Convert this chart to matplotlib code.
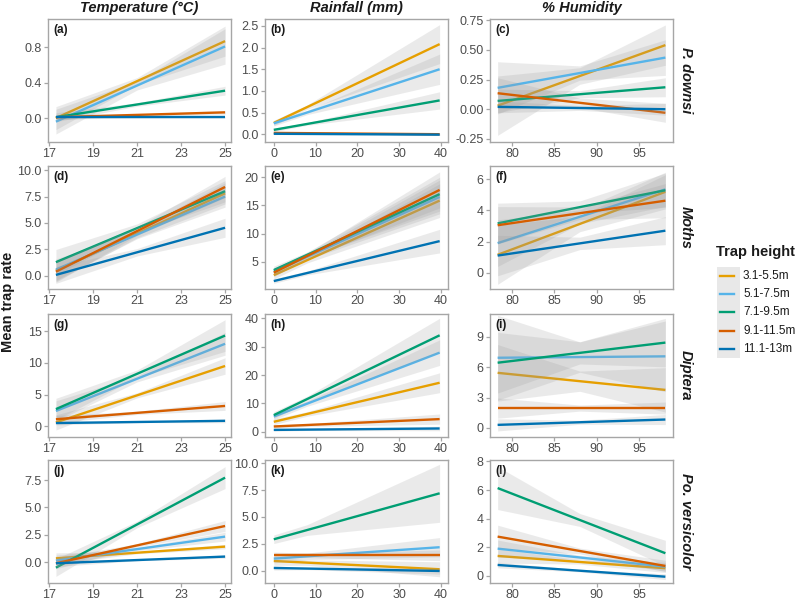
import matplotlib
matplotlib.use("Agg")
import matplotlib.pyplot as plt
from matplotlib.patches import Rectangle

plt.rcParams['font.family'] = ['Liberation Sans', 'DejaVu Sans']

# series (trap heights) and colours
heights = ['3.1-5.5m', '5.1-7.5m', '7.1-9.5m', '9.1-11.5m', '11.1-13m']
colors = ['#E69F00', '#56B4E9', '#009E73', '#D55E00', '#0072B2']

col_titles = ['Temperature (°C)', 'Rainfall (mm)', '% Humidity']
row_titles = ['P. downsi', 'Moths', 'Diptera', 'Po. versicolor']
panel_tags = ['(a)', '(b)', '(c)', '(d)', '(e)', '(f)', '(g)', '(h)', '(i)', '(j)', '(k)', '(l)']

# x extent of fitted lines per column (start, narrowest point of band, end)
x_start = [17.3, 0.0, 78.3]
x_mid = [21.0, 8.0, 88.0]
x_end = [25.0, 39.7, 98.1]
x_lims = [(16.94, 25.27), (-2.1, 41.7), (77.4, 99.0)]
x_ticks = [[17, 19, 21, 23, 25], [0, 10, 20, 30, 40], [80, 85, 90, 95]]

# fitted values at x_start and x_end, one row per panel (a..l)
y_start = [
    [0.0, -0.04, 0.01, 0.01, 0.01],
    [0.26, 0.25, 0.10, 0.03, 0.01],
    [0.03, 0.18, 0.07, 0.135, 0.02],
    [0.5, 0.6, 1.3, 0.4, 0.1],
    [2.6, 3.2, 3.5, 3.05, 1.55],
    [1.15, 1.9, 3.17, 3.05, 1.1],
    [0.6, 2.4, 2.7, 1.1, 0.5],
    [3.55, 5.4, 5.9, 1.9, 0.7],
    [5.45, 6.94, 6.45, 1.96, 0.3],
    [0.36, 0.15, -0.49, -0.09, -0.09],
    [0.9, 1.12, 2.92, 1.43, 0.25],
    [1.4, 1.91, 6.14, 2.75, 0.77],
]
y_end = [
    [0.87, 0.81, 0.31, 0.065, 0.01],
    [2.08, 1.5, 0.78, 0.0, -0.01],
    [0.54, 0.435, 0.185, -0.03, 0.0],
    [7.8, 7.5, 8.0, 8.4, 4.55],
    [15.85, 16.5, 17.0, 17.75, 8.65],
    [5.2, 5.36, 5.3, 4.63, 2.7],
    [9.5, 13.0, 14.3, 3.2, 0.85],
    [17.3, 27.9, 34.0, 4.5, 1.2],
    [3.76, 7.08, 8.44, 1.96, 0.83],
    [1.43, 2.34, 7.72, 3.31, 0.52],
    [0.13, 2.18, 7.2, 1.43, -0.03],
    [0.54, 0.65, 1.59, 0.7, -0.05],
]

# half widths of the confidence bands at start, middle, end
w_start = [
    [0.13, 0.14, 0.05, 0.03, 0.02],
    [0.06, 0.06, 0.04, 0.03, 0.02],
    [0.25, 0.22, 0.10, 0.13, 0.05],
    [1.0, 1.0, 1.2, 1.0, 0.8],
    [0.7, 0.7, 0.7, 0.7, 0.4],
    [1.9, 1.5, 1.3, 1.2, 1.3],
    [1.2, 1.6, 1.7, 0.6, 0.3],
    [1.0, 1.1, 1.2, 0.6, 0.4],
    [2.8, 4.2, 3.0, 1.0, 0.6],
    [0.5, 0.5, 0.8, 0.5, 0.3],
    [0.4, 0.4, 0.4, 0.3, 0.2],
    [0.5, 0.6, 1.5, 0.8, 0.2],
]
w_mid = [
    [0.04, 0.05, 0.02, 0.01, 0.01],
    [0.05, 0.05, 0.03, 0.01, 0.01],
    [0.07, 0.06, 0.03, 0.04, 0.02],
    [0.4, 0.4, 0.4, 0.4, 0.35],
    [0.5, 0.5, 0.5, 0.5, 0.35],
    [0.5, 0.45, 0.4, 0.4, 0.4],
    [0.4, 0.5, 0.6, 0.25, 0.1],
    [0.8, 0.9, 1.0, 0.5, 0.3],
    [1.0, 1.5, 1.1, 0.3, 0.2],
    [0.1, 0.15, 0.3, 0.15, 0.06],
    [0.25, 0.3, 0.5, 0.2, 0.1],
    [0.15, 0.15, 0.45, 0.2, 0.08],
]
w_end = [
    [0.17, 0.2, 0.05, 0.02, 0.01],
    [0.45, 0.35, 0.2, 0.03, 0.02],
    [0.17, 0.15, 0.08, 0.08, 0.05],
    [1.0, 1.0, 1.0, 1.0, 0.9],
    [3.0, 3.0, 3.0, 3.2, 2.1],
    [1.1, 1.1, 1.1, 1.1, 0.9],
    [1.3, 1.8, 2.5, 0.7, 0.3],
    [3.5, 4.5, 6.0, 1.8, 0.8],
    [2.2, 3.5, 2.4, 0.6, 0.5],
    [0.2, 0.4, 1.0, 0.5, 0.15],
    [0.7, 0.9, 2.7, 0.5, 0.3],
    [0.3, 0.3, 0.9, 0.4, 0.2],
]

y_lims = [(-0.27, 1.12), (-0.18, 2.66), (-0.276, 0.76),
          (-1.23, 10.38), (0.14, 22.0), (-1.05, 6.86),
          (-1.7, 17.7), (-1.8, 41.5), (-0.9, 11.27),
          (-1.89, 9.33), (-1.15, 10.3), (-0.49, 8.1)]
y_ticks = [[0, 0.4, 0.8], [0, 0.5, 1.0, 1.5, 2.0, 2.5], [-0.25, 0, 0.25, 0.5, 0.75],
           [0, 2.5, 5, 7.5, 10], [5, 10, 15, 20], [0, 2, 4, 6],
           [0, 5, 10, 15], [0, 10, 20, 30, 40], [0, 3, 6, 9],
           [0, 2.5, 5, 7.5], [0, 2.5, 5, 7.5, 10], [0, 2, 4, 6, 8]]
y_fmt = ['%.1f', '%.1f', '%.2f', '%.1f', '%g', '%g', '%g', '%g', '%g', '%.1f', '%.1f', '%g']

W, H = 799, 601
fig = plt.figure(figsize=(W / 100, H / 100), dpi=100)

lefts = [48, 265, 490]
tops = [19, 166, 314, 460]
pw, ph = 183, 123
grey_txt = '#4D4D4D'
border = '#A6A6A6'

for r in range(4):
    for c in range(3):
        k = r * 3 + c
        ax = fig.add_axes([lefts[c] / W, 1 - (tops[r] + ph) / H, pw / W, ph / H])
        x0, xm, x1 = x_start[c], x_mid[c], x_end[c]
        for s in range(5):
            a, b = y_start[k][s], y_end[k][s]
            ym = a + (b - a) * (xm - x0) / (x1 - x0)
            xs = [x0, xm, x1]
            ys = [a, ym, b]
            ws = [w_start[k][s], w_mid[k][s], w_end[k][s]]
            ax.fill_between(xs, [y - w for y, w in zip(ys, ws)], [y + w for y, w in zip(ys, ws)],
                            color='#999999', alpha=0.2, linewidth=0, zorder=2 * s + 1)
            ax.plot([x0, x1], [a, b], color=colors[s], lw=1.7, zorder=2 * s + 2,
                    solid_capstyle='butt')
        ax.set_xlim(x_lims[c])
        ax.set_ylim(y_lims[k])
        ax.set_xticks(x_ticks[c])
        ax.set_yticks(y_ticks[k])
        ax.set_yticklabels([y_fmt[k] % v for v in y_ticks[k]])
        ax.tick_params(colors=border, labelcolor=grey_txt, labelsize=9, length=3, width=0.9, pad=1.5)
        for sp in ax.spines.values():
            sp.set_color(border)
            sp.set_linewidth(1.0)
        ax.annotate(panel_tags[k], xy=(0, 1), xycoords='axes fraction', xytext=(5, -5),
                    textcoords='offset pixels', ha='left', va='top', fontsize=8.5,
                    fontweight='bold', color='#1a1a1a')

for c in range(3):
    fig.text((lefts[c] + pw / 2) / W, 1 - 8 / H, col_titles[c], ha='center', va='center',
             fontsize=10.5, fontweight='bold', fontstyle='italic', color='#1a1a1a')
for r in range(4):
    fig.text(685.5 / W, 1 - (tops[r] + ph / 2) / H, row_titles[r], ha='center', va='center',
             rotation=-90, fontsize=10.5, fontweight='bold', fontstyle='italic', color='#1a1a1a')

fig.text(8 / W, 1 - 301.5 / H, 'Mean trap rate', ha='center', va='center', rotation=90,
         fontsize=10.5, fontweight='bold', color='#1a1a1a')

# legend
fig.text(716 / W, 1 - 252 / H, 'Trap height', ha='left', va='center', fontsize=10.5,
         fontweight='bold', color='#1a1a1a')
fig.patches.append(Rectangle((717 / W, 1 - 358 / H), 23 / W, 91 / H, transform=fig.transFigure,
                             facecolor='#E8E8E8', edgecolor='none'))
for s, lab in enumerate(heights):
    yc = 1 - (275.7 + 18.3 * s) / H
    fig.add_artist(plt.Line2D([720 / W, 734 / W], [yc, yc], color=colors[s], lw=1.7,
                              transform=fig.transFigure))
    fig.text(743 / W, yc, lab, ha='left', va='center', fontsize=8.5, color='#1a1a1a')

fig.savefig('out.png', dpi=100)
